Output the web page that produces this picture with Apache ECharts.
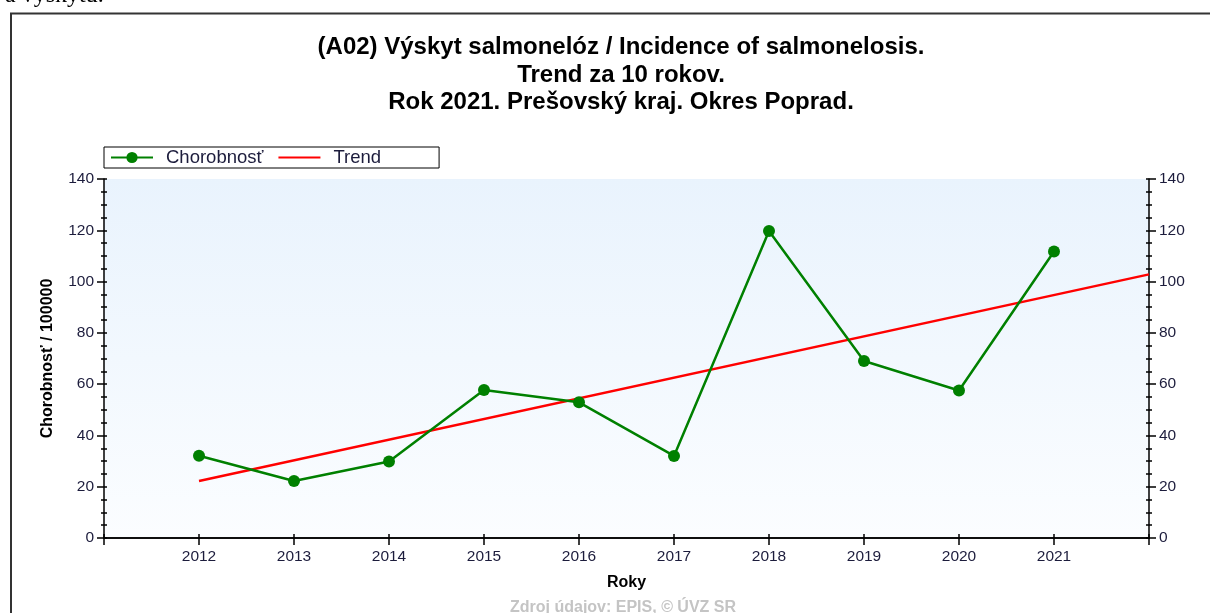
<!DOCTYPE html>
<html>
<head>
<meta charset="utf-8">
<script src="https://cdn.jsdelivr.net/npm/echarts@6/dist/echarts.min.js"></script>
<style>
  html, body { margin: 0; padding: 0; background: #fff; }
</style>
</head>
<body>
<div id="chart" style="width:1210px;height:613px;"></div>
<script>
// data
var years = [2012, 2013, 2014, 2015, 2016, 2017, 2018, 2019, 2020, 2021];
var incidence = [32.1, 22.2, 29.8, 57.7, 52.9, 32.0, 119.7, 69.0, 57.5, 111.7];
var trendYears = [2012, 2022];
var trendValues = [22.2, 102.8];
var yearLabels = ['2012', '2013', '2014', '2015', '2016', '2017', '2018', '2019', '2020', '2021'];

var font = '"Liberation Sans", Arial, sans-serif';
var txt = '#1c1c3c';

var chart = echarts.init(document.getElementById('chart'));

// common y scale
function yAx(pos, inside, labels) {
  return {
    type: 'value', position: pos, min: 0, max: 140, interval: 20,
    splitLine: { show: false },
    axisLine: { show: !inside, lineStyle: { color: '#000', width: 1.5 } },
    axisTick: { show: true, inside: inside, length: inside ? 3 : 7, lineStyle: { color: '#000', width: 1.5 } },
    minorTick: { show: true, splitNumber: 4, length: 3, lineStyle: { color: '#000', width: 1.5 } },
    axisLabel: { show: labels, margin: 10, fontFamily: font, fontSize: 15.5, color: txt }
  };
}

var yLeft = yAx('left', false, true);
yLeft.name = 'Chorobnosť / 100000';
yLeft.nameLocation = 'middle';
yLeft.nameGap = 48;
yLeft.nameTextStyle = { fontFamily: font, fontSize: 16, fontWeight: 'bold', color: '#000' };

var option = {
  animation: false,
  title: {
    text: '(A02) Výskyt salmonelóz / Incidence of salmonelosis.\nTrend za 10 rokov.\nRok 2021. Prešovský kraj. Okres Poprad.',
    left: 616, top: 29, textAlign: 'center',
    textStyle: { fontFamily: font, fontSize: 24, fontWeight: 'bold', color: '#000', lineHeight: 27.5 }
  },
  legend: {
    left: 104, top: 147,
    orient: 'horizontal',
    padding: [1, 58, 1, 6],
    borderColor: '#000', borderWidth: 1,
    itemWidth: 42, itemHeight: 14, itemGap: 14,
    textStyle: { fontFamily: font, fontSize: 18.5, color: txt, padding: [0, 0, 0, 8] },
    data: ['Chorobnosť', { name: 'Trend', itemStyle: { opacity: 0 } }]
  },
  grid: {
    left: 104, right: 61, top: 179, bottom: 75,
    show: true, borderWidth: 0,
    backgroundColor: {
      type: 'linear', x: 0, y: 0, x2: 0, y2: 1,
      colorStops: [{ offset: 0, color: '#e9f3fd' }, { offset: 1, color: '#fbfdff' }]
    }
  },
  xAxis: [
    {
      type: 'value', position: 'bottom', min: 2011, max: 2022, interval: 1,
      splitLine: { show: false },
      axisLine: { lineStyle: { color: '#000', width: 1.5 } },
      axisTick: { length: 7, lineStyle: { color: '#000', width: 1.5 } },
      axisLabel: {
        margin: 11, fontFamily: font, fontSize: 15.5, color: txt,
        formatter: function (v) { var i = years.indexOf(v); return i >= 0 ? yearLabels[i] : ''; }
      },
      name: 'Roky', nameLocation: 'middle', nameGap: 37,
      nameTextStyle: { fontFamily: font, fontSize: 16, fontWeight: 'bold', color: '#000' }
    },
    {
      type: 'value', position: 'bottom', min: 2011, max: 2022, interval: 1,
      splitLine: { show: false }, axisLine: { show: false },
      axisTick: { inside: true, length: 4, lineStyle: { color: '#000', width: 1.5 } },
      axisLabel: { show: false }
    },
    {
      type: 'value', position: 'top', min: 2011, max: 2022, interval: 1,
      splitLine: { show: false },
      axisLine: { lineStyle: { color: '#000', width: 1.5 } },
      axisTick: { inside: true, length: 5, lineStyle: { color: '#000', width: 1.5 } },
      axisLabel: { show: false }
    }
  ],
  yAxis: [yLeft, yAx('left', true, false), yAx('right', false, true), yAx('right', true, false)],
  graphic: [
    { type: 'text', left: 5, top: -16, style: { text: 'a výskytu.', font: '24px "Liberation Serif", serif', fill: '#000' } },
    { type: 'polyline', shape: { points: [[11, 613], [11, 13.5], [1210, 13.5]] }, style: { stroke: '#333', lineWidth: 2, fill: null } },
    {
      type: 'text', left: 510, top: 600,
      style: { text: 'Zdroj údajov: EPIS, © ÚVZ SR', font: 'bold 16px "Liberation Sans", Arial', fill: '#c4c4c4' }
    }
  ],
  series: [
    {
      name: 'Trend', type: 'line', xAxisIndex: 0, yAxisIndex: 0,
      data: trendYears.map(function (y, i) { return [y, trendValues[i]]; }),
      showSymbol: false, symbol: 'none',
      lineStyle: { color: '#ff0000', width: 2.5 }, itemStyle: { color: '#ff0000' }
    },
    {
      name: 'Chorobnosť', type: 'line', xAxisIndex: 0, yAxisIndex: 0,
      data: years.map(function (y, i) { return [y, incidence[i]]; }),
      symbol: 'circle', symbolSize: 12,
      lineStyle: { color: '#008000', width: 2.5 }, itemStyle: { color: '#008000' }
    }
  ]
};

chart.setOption(option);
</script>
</body>
</html>
